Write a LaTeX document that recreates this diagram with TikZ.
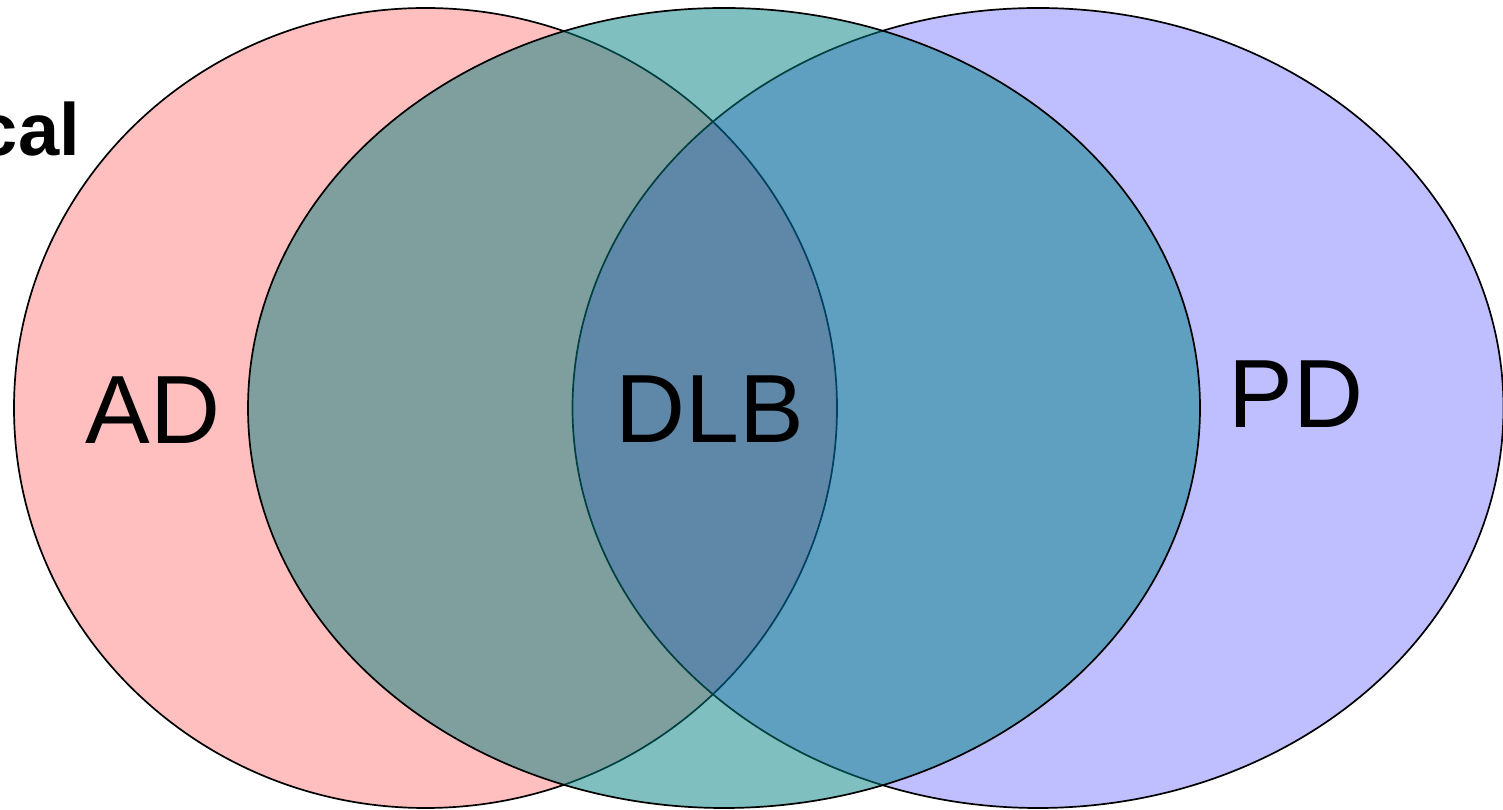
\documentclass[tikz,border=0pt]{standalone}
\usepackage{fontspec}
\setmainfont{Liberation Sans}
\begin{document}
\begin{tikzpicture}[x=1pt,y=1pt,
  setfill/.style={draw=black,line width=1.7pt},
  biglabel/.style={inner sep=0pt,anchor=base,font=\fontsize{97}{116}\selectfont},
  titlelabel/.style={inner sep=0pt,anchor=base east,font=\fontsize{74}{88}\selectfont\bfseries}]
  \useasboundingbox (0,0) rectangle (1503,810);
  % Alzheimer's disease set
  \draw[setfill,fill=red,fill opacity=0.25] (425.5,402) ellipse [x radius=411.5,y radius=400];
  % Parkinson's disease set
  \draw[setfill,fill=blue,fill opacity=0.25] (1038,402) ellipse [x radius=465.5,y radius=400];
  % Lewy body dementia set, laid over both
  \draw[setfill,fill=teal,fill opacity=0.5] (724,402) ellipse [x radius=476,y radius=400];
  % labels
  \node[titlelabel] (title) at (80,654) {cal};
  \node[biglabel] (ad) at (153,366) {AD};
  \node[biglabel] (dlb) at (710,367) {DLB};
  \node[biglabel] (pd) at (1296,382) {PD};
\end{tikzpicture}
\end{document}
